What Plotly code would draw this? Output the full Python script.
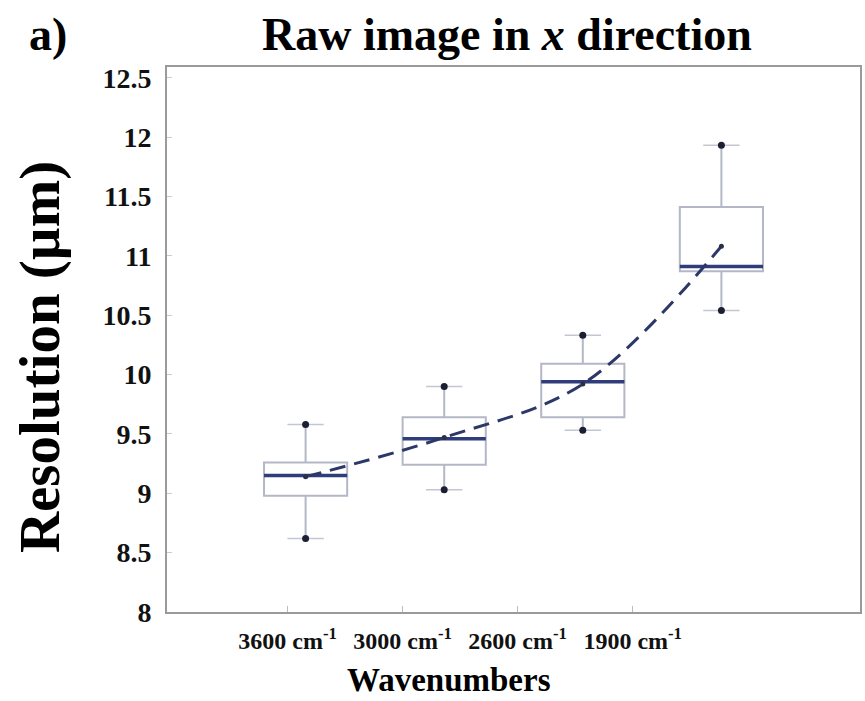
import plotly.graph_objects as go

# ---- data ----
categories = ["3600 cm<sup>-1</sup>", "3000 cm<sup>-1</sup>", "2600 cm<sup>-1</sup>", "1900 cm<sup>-1</sup>"]
positions = [1, 2, 3, 4]
lower_whisker = [8.62, 9.03, 9.53, 10.54]
q1 = [8.98, 9.24, 9.64, 10.87]
median = [9.15, 9.46, 9.94, 10.91]
q3 = [9.26, 9.64, 10.09, 11.41]
upper_whisker = [9.58, 9.90, 10.33, 11.93]
means = [9.14, 9.47, 9.92, 11.08]
label_positions = [0.87, 1.70, 2.53, 3.36]
y_ticks = [8, 8.5, 9, 9.5, 10, 10.5, 11, 11.5, 12, 12.5]
y_ticktext = ["8", "8.5", "9", "9.5", "10", "10.5", "11", "11.5", "12", "12.5"]

BOX_W = 0.6
FONT = "Liberation Serif"
BOX_COL = "#b4b8c6"
MED_COL = "#2f3d7a"
DASH_COL = "#2c3868"

fig = go.Figure()

fig.add_trace(go.Box(
    x=positions, q1=q1, median=median, q3=q3,
    lowerfence=lower_whisker, upperfence=upper_whisker,
    width=BOX_W, whiskerwidth=0,
    line=dict(color=BOX_COL, width=2), fillcolor="rgba(255,255,255,0)",
    boxpoints=False, showlegend=False, hoverinfo="skip",
))

# median lines (dark)
mx, my = [], []
for p, m in zip(positions, median):
    mx += [p - BOX_W / 2, p + BOX_W / 2, None]
    my += [m, m, None]
fig.add_trace(go.Scatter(x=mx, y=my, mode="lines",
                         line=dict(color=MED_COL, width=3.5), showlegend=False))

# whisker caps
cap_x = positions + positions
cap_y = lower_whisker + upper_whisker
fig.add_trace(go.Scatter(x=cap_x, y=cap_y, mode="markers",
                         marker=dict(symbol="line-ew", size=26,
                                     line=dict(color="#c4c7d2", width=1.5)),
                         showlegend=False))
fig.add_trace(go.Scatter(x=cap_x, y=cap_y, mode="markers",
                         marker=dict(symbol="circle", size=7, color="#1c1f33"),
                         showlegend=False))

# dashed trend through means
fig.add_trace(go.Scatter(x=positions, y=means, mode="lines",
                         line=dict(color=DASH_COL, width=3, dash="16px,9px", shape="spline", smoothing=1.0),
                         showlegend=False))
fig.add_trace(go.Scatter(x=positions, y=means, mode="markers",
                         marker=dict(symbol="circle", size=5, color="#2a2f45"),
                         showlegend=False))

fig.update_layout(
    width=865, height=701,
    margin=dict(l=167, r=3, t=67, b=89),
    paper_bgcolor="white", plot_bgcolor="white",
    font=dict(family=FONT, color="black"),
    xaxis=dict(range=[0, 5], tickvals=label_positions, ticktext=categories,
               tickfont=dict(family=FONT, size=24, weight="bold", color="#111"),
               ticks="inside", ticklen=6, tickcolor="#bbb",
               showline=True, linecolor="#9a9a9a", linewidth=2, mirror=True,
               showgrid=False, zeroline=False, ticklabelstandoff=6),
    yaxis=dict(range=[8, 12.59], tickvals=y_ticks, ticktext=y_ticktext,
               tickfont=dict(family=FONT, size=28, weight="bold", color="#111"),
               ticks="inside", ticklen=5, tickcolor="#ccc",
               showline=True, linecolor="#9a9a9a", linewidth=2, mirror=True,
               showgrid=False, zeroline=False, ticklabelstandoff=8),
)

fig.add_annotation(text="Raw image in <i>x</i> direction", xref="paper", yref="paper",
                   x=0.49, y=1.059, xanchor="center", yanchor="middle", showarrow=False,
                   font=dict(family=FONT, size=46, weight="bold"))
fig.add_annotation(text="a)", xref="paper", yref="paper",
                   x=-0.171, y=1.059, xanchor="center", yanchor="middle", showarrow=False,
                   font=dict(family=FONT, size=46, weight="bold"))
fig.add_annotation(text="Resolution (µm)", xref="paper", yref="paper",
                   x=-0.183, y=0.468, xanchor="center", yanchor="middle", showarrow=False, textangle=-90,
                   font=dict(family=FONT, size=57, weight="bold"))
fig.add_annotation(text="Wavenumbers", xref="paper", yref="paper",
                   x=0.407, y=-0.125, xanchor="center", yanchor="middle", showarrow=False,
                   font=dict(family=FONT, size=33, weight="bold"))

fig.write_html("out.html")
